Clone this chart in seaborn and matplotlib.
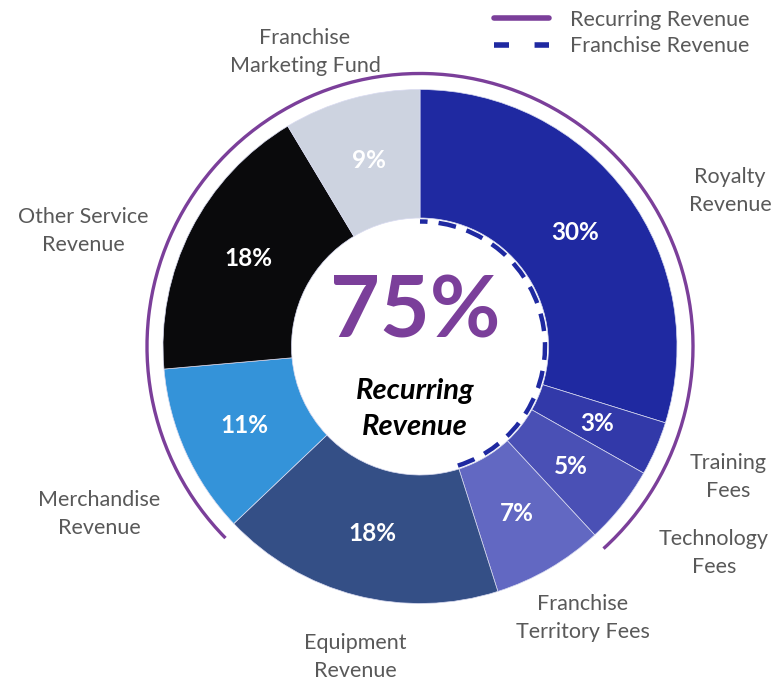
import matplotlib
matplotlib.use("Agg")
import matplotlib.pyplot as plt
from matplotlib.patches import Arc
from matplotlib.lines import Line2D
import seaborn as sns

# ---- data ----
categories = ["Royalty\nRevenue", "Training\nFees", "Technology\nFees",
              "Franchise\nTerritory Fees", "Equipment\nRevenue",
              "Merchandise\nRevenue", "Other Service\nRevenue",
              "Franchise\nMarketing Fund"]
shares = [29.8, 3.4, 4.9, 7.0, 17.8, 10.7, 17.8, 8.6]
recurring = [True, True, True, False, False, True, True, True]
franchise = [True, True, True, True, False, False, False, False]
center_value = "75%"
center_label = "Recurring\nRevenue"
legend_labels = ["Recurring Revenue", "Franchise Revenue"]

# ---- style ----
colors = ["#1F29A1", "#3239A9", "#4A50B5", "#6268C2", "#344F86",
          "#3493D9", "#0A0A0C", "#CDD3E0"]
purple = "#7B3F9A"
navy = "#1F29A1"
gray = "#595959"
# label positions in pixel coords (x, y from top)
label_pos = [(730, 191), (728, 477), (714, 553), (583, 618), (355, 657),
             (99, 514), (83, 231), (305, 52)]

sns.set_theme(style="white")
plt.rcParams["font.family"] = ["Lato", "DejaVu Sans"]

W, H = 782, 682
fig = plt.figure(figsize=(W / 100, H / 100), dpi=100)
ax = fig.add_axes([0, 0, 1, 1])

cx, cy = 420, H - 346.5
R = 257

wedges, texts, autotexts = ax.pie(
    shares, colors=colors, startangle=90, counterclock=False,
    center=(cx, cy), radius=R,
    wedgeprops=dict(width=R * 0.5, edgecolor="#D8DAF0", linewidth=0.5),
    autopct=lambda p: f"{p:.0f}%", pctdistance=0.75,
    textprops=dict(color="white", fontsize=17.5, fontweight="bold"))

ax.set_xlim(0, W)
ax.set_ylim(0, H)
ax.set_aspect("equal")
ax.axis("off")

# cumulative angles
total = sum(shares)
starts, ends = [], []
acc = 0
for s in shares:
    starts.append(90 - 360 * acc / total)
    acc += s
    ends.append(90 - 360 * acc / total)

n = len(shares)
first = next(i for i in range(n) if recurring[i] and not recurring[i - 1])
last = next(i for i in range(n) if recurring[i] and not recurring[(i + 1) % n])
a_end = starts[first]
a_start = ends[last]
if a_end < a_start:
    a_end += 360
ax.add_patch(Arc((cx, cy), 2 * 273, 2 * 273, theta1=a_start - 0.6, theta2=a_end + 1.0,
                 color=purple, lw=2.4))

f_idx = [i for i, f in enumerate(franchise) if f]
ax.add_patch(Arc((cx, cy), 2 * 125, 2 * 125, theta1=ends[f_idx[-1]],
                 theta2=starts[f_idx[0]], color=navy, lw=3.2,
                 linestyle=(0, (4.0, 2.5))))

# center text
ax.text(415, H - 313, center_value, ha="center", va="center", color=purple,
        fontsize=62, fontweight="bold")
ax.text(415, H - 409, center_label, ha="center", va="center", color="black",
        fontsize=21, fontweight="bold", fontstyle="italic", linespacing=1.45)

# category labels
for lab, (x, y) in zip(categories, label_pos):
    ax.text(x, H - y, lab, ha="center", va="center", color=gray,
            fontsize=15.5, linespacing=1.55)

# legend
handles = [Line2D([], [], color=purple, lw=4.0),
           Line2D([], [], color=navy, lw=4.0, linestyle=(0, (2.7, 4.6)))]
leg = ax.legend(handles, legend_labels, loc="upper right",
                bbox_to_anchor=(W - 22, H + 1), bbox_transform=ax.transData,
                frameon=False, fontsize=15.5, handlelength=2.55,
                handletextpad=0.95, labelspacing=0.3, borderpad=0)
for t in leg.get_texts():
    t.set_color(gray)

fig.savefig("out.png", dpi=100)
